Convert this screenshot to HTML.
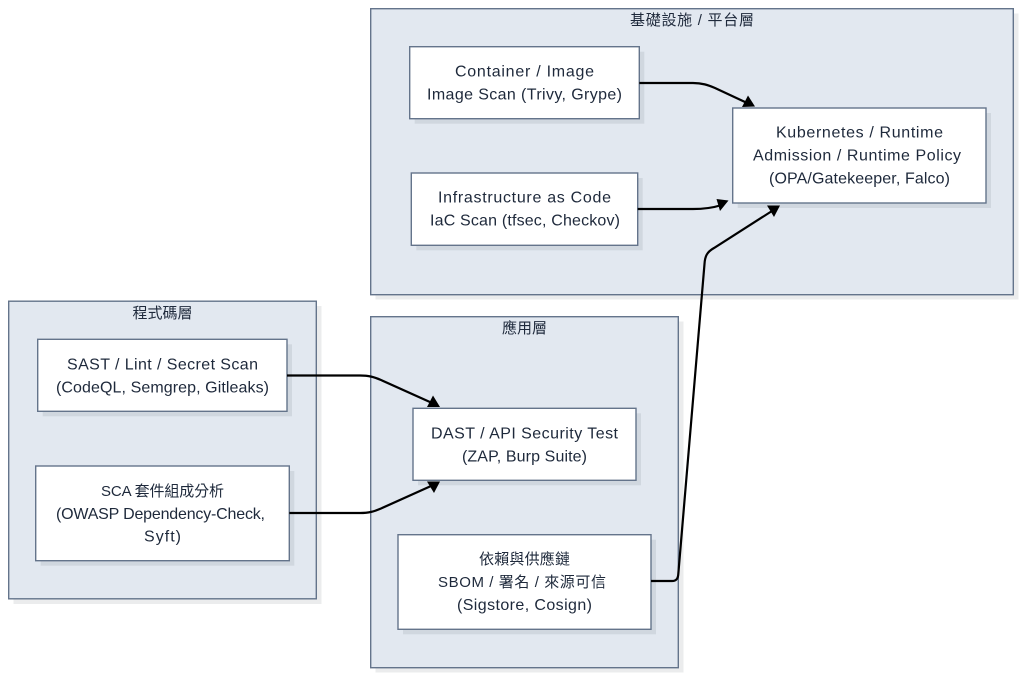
<!DOCTYPE html>
<html lang="zh-Hant">
<head>
<meta charset="utf-8">
<title>Security Layers Diagram</title>
<style>
html,body{margin:0;padding:0;background:#fff;width:1024px;height:678px;overflow:hidden}
svg{display:block}
text{font-family:"Liberation Sans","Noto Sans CJK TC",sans-serif;font-size:16px;fill:#1e293b}
text.c{font-size:15px}
.cl{fill:#e2e8f0;stroke:#64748b;stroke-width:1.4}
.n{fill:#fff;stroke:#64748b;stroke-width:1.4}
.s{fill:#1e293b;opacity:.09}
.e{fill:none;stroke:#000;stroke-width:2.2}
.a{fill:#000}
</style>
</head>
<body>
<svg width="1024" height="678" viewBox="0 0 1024 678" xmlns="http://www.w3.org/2000/svg">
<!-- cluster shadows -->
<rect class="s" x="375.5" y="13.5" width="643" height="286"/>
<rect class="s" x="13.5" y="306" width="308" height="298"/>
<rect class="s" x="375.5" y="321.5" width="308" height="351"/>
<!-- clusters -->
<rect class="cl" x="370.7" y="8.7" width="642.6" height="286"/>
<rect class="cl" x="8.7" y="301.2" width="307.6" height="297.6"/>
<rect class="cl" x="370.7" y="316.7" width="307.6" height="351"/>
<!-- node shadows -->
<rect class="s" x="414.7" y="51.7" width="229.6" height="72"/>
<rect class="s" x="416.3" y="178" width="226.4" height="72.3"/>
<rect class="s" x="737.7" y="113" width="253.3" height="95"/>
<rect class="s" x="42.7" y="344.3" width="249.3" height="72"/>
<rect class="s" x="40.7" y="471" width="253.6" height="94.7"/>
<rect class="s" x="418" y="413.3" width="223" height="72"/>
<rect class="s" x="403" y="539.7" width="253" height="94.6"/>
<!-- nodes -->
<rect class="n" x="409.7" y="46.7" width="229.6" height="72"/>
<rect class="n" x="411.3" y="173" width="226.4" height="72.3"/>
<rect class="n" x="732.7" y="108" width="253.3" height="95"/>
<rect class="n" x="37.7" y="339.3" width="249.3" height="72"/>
<rect class="n" x="35.7" y="466" width="253.6" height="94.7"/>
<rect class="n" x="413" y="408.3" width="223" height="72"/>
<rect class="n" x="398" y="534.7" width="253" height="94.6"/>
<!-- edges -->
<path class="e" d="M287 375.5H360C369 375.5 374 377 381 380L431 402.5"/>
<path class="e" d="M289.3 513H360C369 513 374 511.5 381 508.5L431 486"/>
<path class="e" d="M639.3 83H693C702 83 708 85 715 88L745 102"/>
<path class="e" d="M637.7 209H693C704 209 712 208 720 205.5"/>
<path class="e" d="M651 581H672C676 581 678 579 678.3 574L704.5 264C705 256 707 252 714 248L772 211"/>
<!-- arrowheads -->
<polygon class="a" points="440,407 427,407 433,395.5"/>
<polygon class="a" points="440,481.5 427,481.5 434,493"/>
<polygon class="a" points="755,106.5 742,107 748,95.5"/>
<polygon class="a" points="728.5,200.5 720,211 716.5,199"/>
<polygon class="a" points="780,205.5 767,205.5 774,217"/>
<!-- cluster titles -->
<text class="c" x="630" y="25" textLength="124">基礎設施 / 平台層</text>
<text class="c" x="132.5" y="318" textLength="60">程式碼層</text>
<text class="c" x="502" y="333" textLength="45">應用層</text>
<!-- node labels -->
<text x="455" y="76.7" textLength="139">Container / Image</text>
<text x="427" y="99.5" textLength="195">Image Scan (Trivy, Grype)</text>
<text x="438" y="202.7" textLength="173">Infrastructure as Code</text>
<text x="430" y="225.7" textLength="190">IaC Scan (tfsec, Checkov)</text>
<text x="776" y="137.7" textLength="167">Kubernetes / Runtime</text>
<text x="753" y="160.7" textLength="208">Admission / Runtime Policy</text>
<text x="769" y="183.5" textLength="181">(OPA/Gatekeeper, Falco)</text>
<text x="67" y="369.3" textLength="191">SAST / Lint / Secret Scan</text>
<text x="56" y="392.3" textLength="213">(CodeQL, Semgrep, Gitleaks)</text>
<text class="c" x="101" y="496" textLength="123">SCA 套件組成分析</text>
<text x="56" y="519" textLength="209">(OWASP Dependency-Check,</text>
<text x="144" y="541.7" textLength="37">Syft)</text>
<text x="431" y="438.3" textLength="187">DAST / API Security Test</text>
<text x="462" y="461.3" textLength="125">(ZAP, Burp Suite)</text>
<text class="c" x="479" y="564" textLength="91">依賴與供應鏈</text>
<text class="c" x="438" y="587" textLength="168">SBOM / 署名 / 來源可信</text>
<text x="457" y="610" textLength="135">(Sigstore, Cosign)</text>
</svg>
</body>
</html>
